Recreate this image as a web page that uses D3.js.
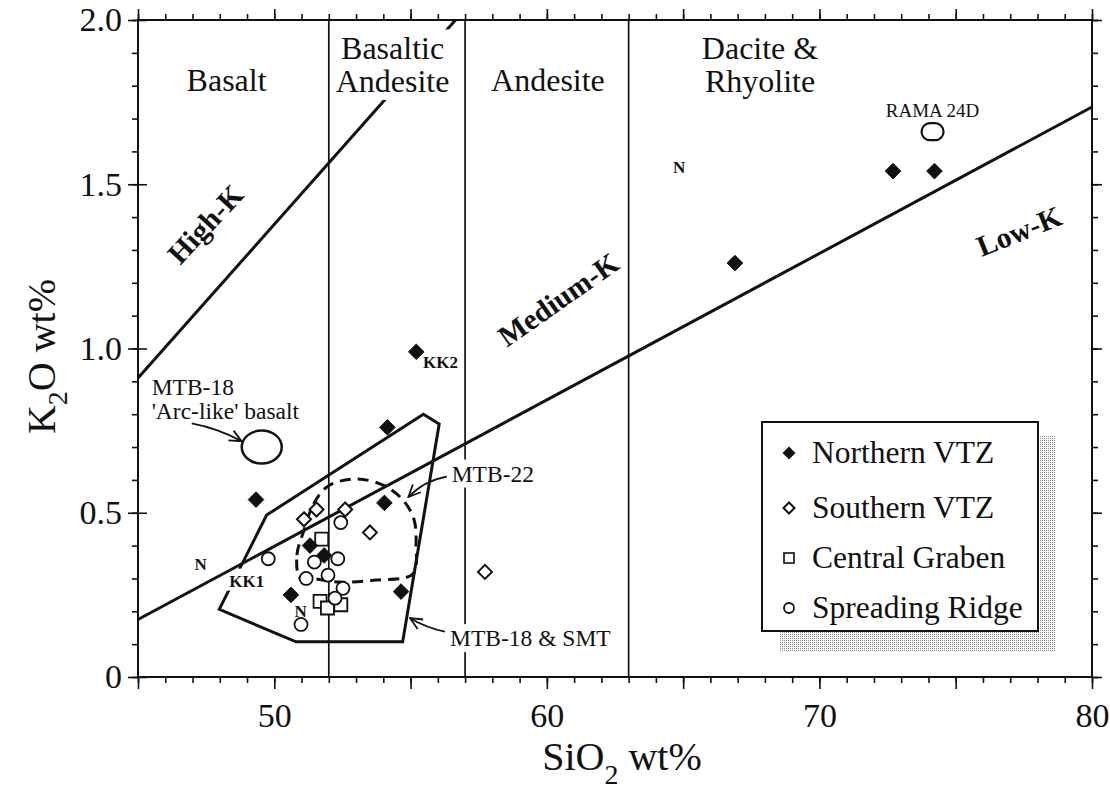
<!DOCTYPE html>
<html><head><meta charset="utf-8">
<script src="https://cdn.jsdelivr.net/npm/d3@7"></script>
<style>
body{margin:0;background:#fff;}
svg text{font-family:"Liberation Serif","Times New Roman",serif;fill:#111;}
</style></head><body>
<svg id="chart" width="1110" height="799"></svg>
<script>
// ---------- data (SiO2 wt%, K2O wt%) ----------
const northernVTZ = [[49.33,0.54],[54.15,0.76],[55.21,0.99],[54.04,0.53],[51.31,0.40],[51.83,0.37],[50.61,0.25],[54.65,0.26],[66.9,1.26],[72.7,1.54],[74.22,1.54]];
const southernVTZ = [[51.09,0.48],[51.55,0.51],[52.6,0.51],[53.51,0.44],[57.73,0.32]];
const centralGraben = [[51.74,0.42],[51.68,0.23],[51.95,0.21],[52.44,0.22]];
const spreadingRidge = [[52.44,0.47],[49.78,0.36],[51.47,0.35],[52.33,0.36],[51.17,0.30],[51.97,0.31],[52.52,0.27],[52.23,0.24],[50.98,0.16]];
const arcLikeBasalt = [49.54,0.70];
const rama24D = [74.15,1.66];
const rockBoundaries = [52,57,63];
const highKLine = [[45,0.91],[56.65,2.0]];
const lowKLine = [[45,0.175],[80,1.735]];
const mtb18SmtField = [[47.98,0.206],[49.72,0.493],[55.47,0.80],[56.05,0.77],[54.71,0.107],[50.80,0.107]];
const mtb22Field = [[50.94,0.301],[50.83,0.371],[51.09,0.447],[51.46,0.530],[51.97,0.581],[52.96,0.603],[53.99,0.584],[54.72,0.539],[55.13,0.478],[55.20,0.402],[55.09,0.314],[53.70,0.295],[52.41,0.289],[51.31,0.301]];
const xTickLabels = [50,60,70,80];
const yTickLabels = [0,0.5,1.0,1.5,2.0];
const regionLabels = [
  {lines:["Basalt"], x:48.25, y:1.785},
  {lines:["Basaltic","Andesite"], x:54.34, y:1.880, mask:true},
  {lines:["Andesite"], x:60.04, y:1.785},
  {lines:["Dacite &","Rhyolite"], x:67.82, y:1.880}
];
const seriesLabels = [
  {text:"High-K", x:47.46, y:1.379, angle:-47},
  {text:"Medium-K", x:60.41, y:1.150, angle:-35},
  {text:"Low-K", x:77.32, y:1.358, angle:-22}
];
const pointLabels = [
  {text:"KK2", x:55.46, y:0.941, anchor:"start"},
  {text:"KK1", x:48.99, y:0.275, anchor:"middle", mask:true},
  {text:"N", x:47.30, y:0.326, anchor:"middle"},
  {text:"N", x:50.97, y:0.184, anchor:"middle"},
  {text:"N", x:64.85, y:1.534, anchor:"middle"}
];
const annotations = [
  {lines:["MTB-18","'Arc-like' basalt"], x:45.50, y:0.858, mask:false},
  {lines:["MTB-22"], x:56.51, y:0.595, mask:true},
  {lines:["MTB-18 & SMT"], x:56.45, y:0.094, mask:true}
];
const arrows = [
  {from:[46.97,0.772], to:[48.80,0.718], bend:-4},
  {from:[56.33,0.610], to:[54.92,0.548], bend:7},
  {from:[56.26,0.138], to:[54.98,0.179], bend:-3}
];
const legendItems = ["Northern VTZ","Southern VTZ","Central Graben","Spreading Ridge"];

// ---------- setup ----------
const svg = d3.select("#chart");
const x = d3.scaleLinear().domain([45,80]).range([138,1092]);
const y = d3.scaleLinear().domain([0,2]).range([677,20]);
const X0 = x.range()[0], X1 = x.range()[1], Y0 = y.range()[0], Y1 = y.range()[1];

const defs = svg.append("defs");
const pat = defs.append("pattern").attr("id","stipple").attr("width",2).attr("height",2).attr("patternUnits","userSpaceOnUse");
pat.append("rect").attr("width",2).attr("height",2).attr("fill","#fff");
pat.append("rect").attr("width",1).attr("height",1).attr("fill","#8a8a8a");
defs.append("marker").attr("id","arrowhead").attr("viewBox","0 0 14 14").attr("refX",13).attr("refY",7)
  .attr("markerWidth",14).attr("markerHeight",14).attr("markerUnits","userSpaceOnUse").attr("orient","auto")
  .append("path").attr("d","M1,1.5 L13,7 L1,12.5").attr("fill","none").attr("stroke","#111").attr("stroke-width",1.8);

const line = d3.line().x(d=>x(d[0])).y(d=>y(d[1]));

// ---------- fields ----------
svg.append("path").datum(mtb18SmtField).attr("d", d3.line().x(d=>x(d[0])).y(d=>y(d[1])).curve(d3.curveLinearClosed))
  .attr("fill","none").attr("stroke","#111").attr("stroke-width",3).attr("stroke-linejoin","miter");
svg.append("path").datum(mtb22Field).attr("d", d3.line().x(d=>x(d[0])).y(d=>y(d[1])).curve(d3.curveCatmullRomClosed.alpha(0.5)))
  .attr("fill","none").attr("stroke","#111").attr("stroke-width",3).attr("stroke-dasharray","11,7");

const fontPL = 17;
// KK1 mask (before boundary lines so the Low-K line stays on top)
const plG = svg.append("g");
pointLabels.forEach(p=>{
  if(p.mask){
    const w = 40, h = 22;
    plG.append("rect").attr("x",x(p.x)-w/2).attr("y",y(p.y)-h+4).attr("width",w).attr("height",h).attr("fill","#fff");
  }
});

// ---------- boundary lines ----------
svg.selectAll(".vb").data(rockBoundaries).join("line").attr("class","vb")
  .attr("x1",d=>x(d)).attr("x2",d=>x(d)).attr("y1",Y0).attr("y2",Y1)
  .attr("stroke","#111").attr("stroke-width",1.7);
svg.append("path").datum(highKLine).attr("d",line).attr("stroke","#111").attr("stroke-width",3).attr("fill","none");
svg.append("path").datum(lowKLine).attr("d",line).attr("stroke","#111").attr("stroke-width",3).attr("fill","none");

// ---------- region labels ----------
const fontRegion = 32;
regionLabels.forEach(r=>{
  const g = svg.append("g");
  const t = g.append("text").attr("text-anchor","middle").attr("font-size",fontRegion);
  r.lines.forEach((l,i)=>{
    t.append("tspan").attr("x",x(r.x)).attr("y",y(r.y)+i*32.5).text(l);
  });
  if(r.mask){
    const bb = t.node().getBBox();
    g.insert("rect","text").attr("x",bb.x-3).attr("y",bb.y-1).attr("width",bb.width+6).attr("height",bb.height+2).attr("fill","#fff");
  }
});

// ---------- series labels ----------
seriesLabels.forEach(s=>{
  svg.append("text").attr("transform",`translate(${x(s.x)},${y(s.y)}) rotate(${s.angle})`)
    .attr("text-anchor","middle").attr("dy","0.35em").attr("font-size",29.5).attr("font-weight","bold").text(s.text);
});

// ---------- annotations ----------
annotations.forEach(a=>{
  const g = svg.append("g");
  const t = g.append("text").attr("font-size",23.5);
  a.lines.forEach((l,i)=>t.append("tspan").attr("x",x(a.x)).attr("y",y(a.y)+i*24).text(l));
  if(a.mask){
    const bb = t.node().getBBox();
    g.insert("rect","text").attr("x",bb.x-2).attr("y",bb.y-1).attr("width",bb.width+4).attr("height",bb.height+2).attr("fill","#fff");
  }
});
arrows.forEach(a=>{
  const x1=x(a.from[0]), y1=y(a.from[1]), x2=x(a.to[0]), y2=y(a.to[1]);
  const mx=(x1+x2)/2, my=(y1+y2)/2, dx=x2-x1, dy=y2-y1, L=Math.hypot(dx,dy);
  const cx = mx + a.bend*(-dy/L), cy = my + a.bend*(dx/L);
  svg.append("path").attr("d",`M${x1},${y1} Q${cx},${cy} ${x2},${y2}`)
    .attr("fill","none").attr("stroke","#111").attr("stroke-width",1.8).attr("marker-end","url(#arrowhead)");
});

// ---------- point labels ----------
pointLabels.forEach(p=>{
  plG.append("text").attr("x",x(p.x)).attr("y",y(p.y)).attr("text-anchor",p.anchor)
    .attr("font-size",fontPL).attr("font-weight","bold").text(p.text);
});
svg.append("text").attr("x",x(rama24D[0])).attr("y",y(1.706)).attr("text-anchor","middle").attr("font-size",19).text("RAMA 24D");

// ---------- symbols ----------
const diamond = r => `M0,${-r} L${r},0 L0,${r} L${-r},0 Z`;
function drawSymbols(data, kind, g, scale){
  const s = scale||1;
  const sel = g.selectAll(null).data(data).join("path")
    .attr("transform",d=>`translate(${x(d[0])},${y(d[1])})`);
  if(kind==="fd") sel.attr("d",diamond(7.8*s)).attr("fill","#111").attr("stroke","#111").attr("stroke-width",1);
  if(kind==="od") sel.attr("d",diamond(7*s)).attr("fill","#fff").attr("stroke","#111").attr("stroke-width",2);
  if(kind==="sq") sel.attr("d",`M${-6.5*s},${-6.5*s} h${13*s} v${13*s} h${-13*s} Z`).attr("fill","#fff").attr("stroke","#111").attr("stroke-width",1.8);
  if(kind==="ci") sel.attr("d",d3.symbol(d3.symbolCircle, Math.PI*Math.pow(6.5*s,2))).attr("fill","#fff").attr("stroke","#111").attr("stroke-width",1.8);
}
const symG = svg.append("g");
drawSymbols(centralGraben,"sq",symG);
drawSymbols(spreadingRidge,"ci",symG);
drawSymbols(southernVTZ,"od",symG);
drawSymbols(northernVTZ,"fd",symG);
svg.append("ellipse").attr("cx",x(arcLikeBasalt[0])).attr("cy",y(arcLikeBasalt[1])).attr("rx",20).attr("ry",16.5)
  .attr("fill","none").attr("stroke","#111").attr("stroke-width",2.5);
svg.append("rect").attr("x",x(rama24D[0])-11).attr("y",y(rama24D[1])-8.5).attr("width",22).attr("height",17)
  .attr("rx",8.5).attr("ry",8.5).attr("fill","none").attr("stroke","#111").attr("stroke-width",2.2);

// ---------- axes ----------
const axG = svg.append("g");
function styleAxis(g){ g.selectAll("path.domain").remove(); g.selectAll("line").attr("stroke","#111").attr("stroke-width",1.6); }
// bottom
axG.append("g").attr("transform",`translate(0,${Y0})`).call(d3.axisBottom(x).tickValues(d3.range(45,81,1)).tickSize(6).tickFormat("")).call(styleAxis);
const xb = axG.append("g").attr("transform",`translate(0,${Y0})`).call(d3.axisBottom(x).tickValues(d3.range(45,81,5)).tickSize(12).tickPadding(14)
  .tickFormat(d=>xTickLabels.includes(d)?String(d):"")).call(styleAxis);
xb.selectAll("text").attr("font-size",34).attr("fill","#111").attr("font-family","Liberation Serif, serif");
// top
axG.append("g").attr("transform",`translate(0,${Y1})`).call(d3.axisTop(x).tickValues(d3.range(45,81,1)).tickSize(6).tickFormat("")).call(styleAxis);
axG.append("g").attr("transform",`translate(0,${Y1})`).call(d3.axisTop(x).tickValues(d3.range(45,81,5)).tickSize(11).tickFormat("")).call(styleAxis);
// left
const yMinor = d3.range(0,21).map(i=>i/10);
axG.append("g").attr("transform",`translate(${X0},0)`).call(d3.axisLeft(y).tickValues(yMinor).tickSize(6).tickFormat("")).call(styleAxis);
const yl = axG.append("g").attr("transform",`translate(${X0},0)`).call(d3.axisLeft(y).tickValues(yTickLabels).tickSize(10).tickPadding(6)
  .tickFormat(d=>d===0?"0":d3.format(".1f")(d))).call(styleAxis);
yl.selectAll("text").attr("font-size",34).attr("fill","#111").attr("font-family","Liberation Serif, serif");
axG.append("g").attr("transform",`translate(${X0},0)`).call(d3.axisRight(y).tickValues(yTickLabels).tickSize(9).tickFormat("")).call(styleAxis);
// right
axG.append("g").attr("transform",`translate(${X1},0)`).call(d3.axisRight(y).tickValues(yMinor).tickSize(6).tickFormat("")).call(styleAxis);
axG.append("g").attr("transform",`translate(${X1},0)`).call(d3.axisRight(y).tickValues(yTickLabels).tickSize(10).tickFormat("")).call(styleAxis);
// frame
svg.append("rect").attr("x",X0).attr("y",Y1).attr("width",X1-X0).attr("height",Y0-Y1)
  .attr("fill","none").attr("stroke","#111").attr("stroke-width",2);

// axis titles
const xt = svg.append("text").attr("x",(X0+X1)/2+7).attr("y",770).attr("text-anchor","middle").attr("font-size",40);
xt.append("tspan").text("SiO");
xt.append("tspan").attr("font-size",28).attr("dy",14).text("2");
xt.append("tspan").attr("dy",-14).text(" wt%");
const yt = svg.append("text").attr("transform",`translate(55,${(Y0+Y1)/2+8}) rotate(-90)`).attr("text-anchor","middle").attr("font-size",40);
yt.append("tspan").text("K");
yt.append("tspan").attr("font-size",28).attr("dy",12).text("2");
yt.append("tspan").attr("dy",-12).text("O wt%");

// ---------- legend ----------
const lg = svg.append("g");
lg.append("rect").attr("x",780).attr("y",436).attr("width",276).attr("height",216).attr("fill","url(#stipple)");
lg.append("rect").attr("x",762).attr("y",422).attr("width",276).attr("height",209).attr("fill","#fff").attr("stroke","#111").attr("stroke-width",2);
const kinds = ["fd","od","sq","ci"];
const rowY = [453,508,558,608];
legendItems.forEach((name,i)=>{
  const g = lg.append("g").attr("transform",`translate(789,${rowY[i]})`);
  const k = kinds[i];
  if(k==="fd") g.append("path").attr("d",diamond(6.5)).attr("fill","#111");
  if(k==="od") g.append("path").attr("d",diamond(5.5)).attr("fill","#fff").attr("stroke","#111").attr("stroke-width",2);
  if(k==="sq") g.append("rect").attr("x",-5).attr("y",-5).attr("width",10).attr("height",10).attr("fill","#fff").attr("stroke","#111").attr("stroke-width",1.6);
  if(k==="ci") g.append("circle").attr("r",5).attr("fill","#fff").attr("stroke","#111").attr("stroke-width",1.8);
  g.append("text").attr("x",23).attr("y",10).attr("font-size",31.5).text(name);
});
</script>
</body></html>
